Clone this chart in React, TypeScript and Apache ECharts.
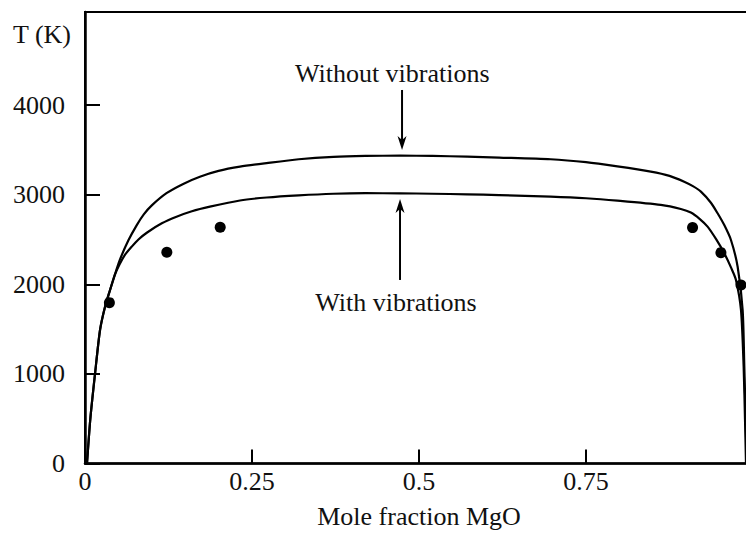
import React, { useEffect, useRef } from "react";
import * as echarts from "echarts";

// Mole fraction MgO (x) and temperature in K (T)
const withoutX = [0.003, 0.008, 0.015, 0.0225, 0.03, 0.0375, 0.045, 0.052, 0.065, 0.0775, 0.088, 0.1, 0.122, 0.147, 0.172, 0.2, 0.232, 0.272, 0.32, 0.372, 0.42, 0.472, 0.52, 0.572, 0.62, 0.697, 0.75, 0.797, 0.847, 0.875, 0.897, 0.91, 0.922, 0.937, 0.947, 0.957, 0.967, 0.977, 0.9845, 0.987, 0.989, 0.9905];
const withoutT = [0, 500, 1000, 1490, 1750, 1936, 2115, 2270, 2490, 2660, 2780, 2880, 3016, 3120, 3200, 3265, 3312, 3352, 3395, 3422, 3432, 3435, 3432, 3424, 3414, 3395, 3362, 3315, 3257, 3210, 3145, 3095, 3034, 2910, 2792, 2660, 2494, 2196, 1713, 1080, 500, 0];

const withX = [0.003, 0.008, 0.015, 0.0225, 0.03, 0.0375, 0.045, 0.052, 0.06, 0.07, 0.08, 0.0925, 0.115, 0.137, 0.16, 0.187, 0.232, 0.272, 0.32, 0.372, 0.42, 0.472, 0.52, 0.572, 0.62, 0.697, 0.75, 0.797, 0.862, 0.892, 0.907, 0.92, 0.932, 0.945, 0.957, 0.9675, 0.9745, 0.982, 0.986, 0.988, 0.9895];
const withT = [0, 500, 1000, 1490, 1750, 1936, 2110, 2225, 2330, 2420, 2500, 2575, 2680, 2754, 2815, 2866, 2935, 2968, 2992, 3010, 3016, 3015, 3010, 3004, 2995, 2978, 2960, 2933, 2885, 2840, 2800, 2730, 2643, 2500, 2346, 2180, 2048, 1713, 1080, 500, 0];

const expX = [0.0365, 0.1225, 0.2024, 0.9095, 0.952, 0.982];
const expT = [1795, 2357, 2636, 2632, 2353, 1992];

const xTicks = [0, 0.25, 0.5, 0.75];
const yTicks = [0, 1000, 2000, 3000, 4000];

const pairs = (xs: number[], ys: number[]) => xs.map((x, i) => [x, ys[i]]);

export default function App() {
  const ref = useRef<HTMLDivElement>(null);
  useEffect(() => {
    const chart = echarts.init(ref.current!, null, { renderer: "svg" });
    const font = "'Liberation Serif', 'Times New Roman', serif";
    const fs = 26;
    chart.setOption({
      animation: false,
      backgroundColor: "#fff",
      grid: {
        left: 85,
        top: 12,
        width: 668,
        height: 451.5,
        show: true,
        borderColor: "#000",
        borderWidth: 2,
        containLabel: false,
        outerBoundsMode: "none",
      },
      xAxis: {
        type: "value",
        min: 0,
        max: 1,
        name: "Mole fraction MgO",
        nameLocation: "middle",
        nameGap: 40,
        nameTextStyle: { fontFamily: font, fontSize: fs, color: "#111" },
        axisLine: { show: true, lineStyle: { color: "#000", width: 2.5 } },
        axisTick: { show: true, inside: true, length: 14, lineStyle: { color: "#000", width: 2 }, customValues: xTicks },
        axisLabel: { fontFamily: font, fontSize: fs, color: "#111", margin: 5, customValues: xTicks, formatter: (v: number) => String(v) },
        splitLine: { show: false },
      },
      yAxis: {
        type: "value",
        min: 0,
        max: 5038,
        axisLine: { show: true, lineStyle: { color: "#000", width: 2.5 } },
        axisTick: { show: true, inside: true, length: 15, lineStyle: { color: "#000", width: 2 }, customValues: yTicks },
        axisLabel: { fontFamily: font, fontSize: fs, color: "#111", margin: 20, customValues: yTicks, formatter: (v: number) => String(v) },
        splitLine: { show: false },
      },
      series: [
        {
          name: "Without vibrations",
          type: "line",
          data: pairs(withoutX, withoutT),
          showSymbol: false,
          smooth: 0.25,
          lineStyle: { color: "#000", width: 2.2 },
        },
        {
          name: "With vibrations",
          type: "line",
          data: pairs(withX, withT),
          showSymbol: false,
          smooth: 0.25,
          lineStyle: { color: "#000", width: 2.2 },
        },
        {
          name: "Experiment",
          type: "scatter",
          data: pairs(expX, expT),
          symbol: "circle",
          symbolSize: 11,
          itemStyle: { color: "#000", opacity: 1 },
        },
      ],
    });

    const p = (x: number, y: number) => chart.convertToPixel({ gridIndex: 0 }, [x, y]) as number[];
    const arrowHead = (tip: number[], dir: number) => {
      const L = 14, W = 4.5, N = 4;
      return {
        type: "polygon",
        shape: {
          points: [
            [tip[0], tip[1]],
            [tip[0] - W, tip[1] - dir * L],
            [tip[0], tip[1] - dir * (L - N)],
            [tip[0] + W, tip[1] - dir * L],
          ],
        },
        style: { fill: "#000" },
      };
    };
    const dTop = p(0.4746, 4168);
    const dTip = p(0.4746, 3499);
    const uBot = p(0.4716, 2048);
    const uTip = p(0.4716, 2952);
    const t1 = p(0.46, 4347);
    const t2 = p(0.4656, 1802);
    const yName = p(0, 4920);

    chart.setOption({
      graphic: [
        { type: "line", shape: { x1: dTop[0], y1: dTop[1], x2: dTip[0], y2: dTip[1] - 8 }, style: { stroke: "#000", lineWidth: 2 } },
        arrowHead(dTip, 1),
        { type: "line", shape: { x1: uBot[0], y1: uBot[1], x2: uTip[0], y2: uTip[1] + 8 }, style: { stroke: "#000", lineWidth: 2 } },
        arrowHead(uTip, -1),
        { type: "text", x: t1[0], y: t1[1], style: { text: "Without vibrations", font: `${fs}px ${font}`, fill: "#111", align: "center", verticalAlign: "middle" } },
        { type: "text", x: t2[0], y: t2[1], style: { text: "With vibrations", font: `${fs}px ${font}`, fill: "#111", align: "center", verticalAlign: "middle" } },
        { type: "text", x: 42, y: yName[1] + 12, style: { text: "T (K)", font: `${fs}px ${font}`, fill: "#111", align: "center", verticalAlign: "middle" } },
      ],
    });

    return () => chart.dispose();
  }, []);
  return <div ref={ref} style={{ position: "absolute", left: 0, top: 0, width: 746, height: 533 }} />;
}
